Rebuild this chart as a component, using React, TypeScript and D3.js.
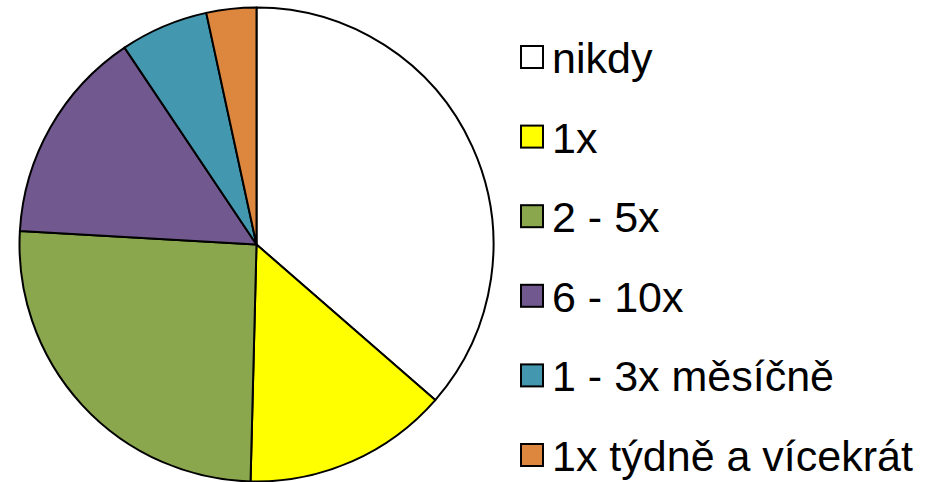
import React, { useEffect, useRef } from 'react';
import * as d3 from 'd3';

// share of answers in %
const categories = ['nikdy', '1x', '2 - 5x', '6 - 10x', '1 - 3x měsíčně', '1x týdně a vícekrát'];
const values = [36.4, 14.0, 25.5, 14.7, 6.0, 3.4];
const colors = ['#ffffff', '#ffff00', '#8ba74e', '#71588f', '#4398b0', '#dc863e'];

function App() {
  const svgRef = useRef<SVGSVGElement>(null);

  useEffect(() => {
    const svg = d3.select(svgRef.current);
    svg.selectAll('*').remove();

    const width = 926;
    const height = 482;
    const cx = 256.5;
    const cy = 244.5;
    const radius = 237;

    svg.attr('width', width).attr('height', height);

    const data = categories.map((c, i) => ({ name: c, value: values[i], color: colors[i] }));

    const pie = d3.pie<any>().sort(null).value(d => d.value);
    const arc = d3.arc<any>().innerRadius(0).outerRadius(radius);

    const g = svg.append('g').attr('transform', `translate(${cx},${cy})`);
    g.selectAll('path')
      .data(pie(data))
      .enter()
      .append('path')
      .attr('d', arc)
      .attr('fill', d => d.data.color)
      .attr('stroke', '#000')
      .attr('stroke-width', 2)
      .attr('stroke-linejoin', 'round');

    // legend
    const rowY = d3.scaleLinear().domain([0, categories.length - 1]).range([73, 471]);
    const legend = svg.append('g');
    const items = legend.selectAll('g')
      .data(data)
      .enter()
      .append('g')
      .attr('transform', (d, i) => `translate(0,${rowY(i)})`);

    items.append('rect')
      .attr('x', 521)
      .attr('y', -27)
      .attr('width', 22)
      .attr('height', 22)
      .attr('fill', d => d.color)
      .attr('stroke', '#000')
      .attr('stroke-width', 2);

    items.append('text')
      .attr('x', 552)
      .attr('y', 0)
      .attr('font-family', '"Liberation Sans", Arial, sans-serif')
      .attr('font-size', 43)
      .attr('fill', '#000')
      .text(d => d.name);
  }, []);

  return (
    <div style={{ position: 'absolute', left: 0, top: 0, width: 926, height: 482, background: '#fff' }}>
      <svg ref={svgRef} style={{ display: 'block' }}></svg>
    </div>
  );
}

export default App;
